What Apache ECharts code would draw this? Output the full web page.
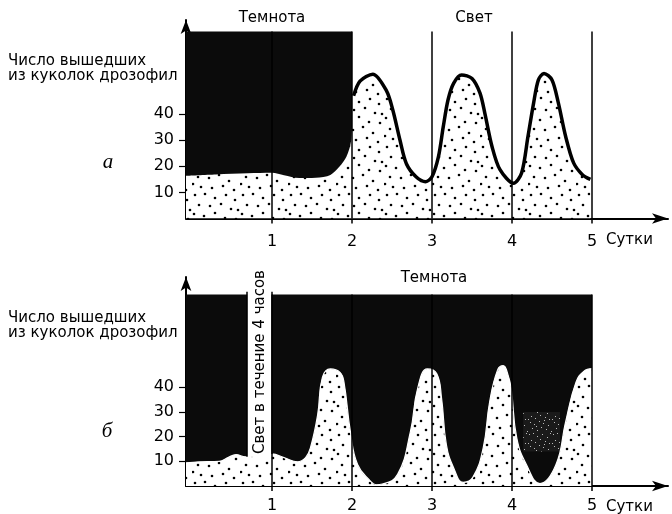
<!DOCTYPE html>
<html><head><meta charset="utf-8">
<script src="https://cdn.jsdelivr.net/npm/echarts@6/dist/echarts.min.js"></script>
<style>html,body{margin:0;padding:0;background:#fff}#c{width:672px;height:514px}</style>
</head><body><div id="c"></div>
<script>
// ---------- data ----------
const dayTicks = [1, 2, 3, 4, 5];
const yTicks = [10, 20, 30, 40];
const xStart = -0.075;            // curve starts at the y axis
// panel a: darkness from start to day 2, light afterwards
const darkSpanA = [xStart, 2];
const darkTopA = 71.6;
const curveA = [[-0.075,16.4],[0.3,16.9],[0.7,17.3],[1.0,17.5],[1.15,16.6],[1.34,15.5],[1.55,15.6],[1.73,16.7],[1.84,19.8],[1.93,23.7],[1.99,30],[2.02,47],[2.1,52.6],[2.26,55.3],[2.43,49],[2.51,41.6],[2.6,30],[2.68,21],[2.8,16],[2.92,14.1],[3.0,16],[3.08,23.6],[3.14,35],[3.2,45.4],[3.27,51.8],[3.37,55],[3.5,53.6],[3.6,48],[3.66,40.4],[3.75,27.6],[3.85,18.7],[4.02,13.5],[4.12,17.4],[4.2,31.5],[4.27,44.2],[4.33,53.1],[4.4,55.6],[4.5,53.1],[4.58,44.2],[4.67,31.5],[4.77,21.3],[4.88,16.8],[4.98,15]];
// panel b: darkness all the time, except a 4-hour light pulse
const darkSpanB = [xStart, 5];
const darkTopB = 77.5;
const lightStripB = [0.69, 1.0];
const lightStripTop = 78.6;
const scanPatchB = [[4.14, 14], [4.6, 30]];
const curveB = [[-0.075,9.4],[0.1,9.8],[0.34,10],[0.45,11.5],[0.55,12.7],[0.67,11.8],[0.88,11.8],[1.0,13],[1.15,11.5],[1.32,9.8],[1.42,11.5],[1.48,15.4],[1.57,28.7],[1.63,44],[1.73,47.4],[1.85,46],[1.9,42],[1.98,22],[2.07,8.7],[2.23,2],[2.3,0.5],[2.38,0.8],[2.57,4.7],[2.73,22],[2.82,39.4],[2.94,47.4],[3.06,45.4],[3.12,35.4],[3.18,16.7],[3.27,7.4],[3.39,1.5],[3.51,3.5],[3.64,15.4],[3.72,34],[3.82,47],[3.89,48.7],[3.95,45],[3.99,39.4],[4.06,19.4],[4.18,8.7],[4.35,1],[4.55,8.7],[4.67,26],[4.8,42],[4.9,46.5],[5.0,47.5]];

// ---------- styling helpers ----------
const FONT = '"DejaVu Sans", "Liberation Sans", sans-serif';
function dotPattern() {
  const c = document.createElement('canvas');
  c.width = 48; c.height = 48;
  const g = c.getContext('2d');
  g.fillStyle = '#fff'; g.fillRect(0, 0, 48, 48);
  g.fillStyle = '#000';
  const p = [[3,3],[13,2],[23,6],[34,3],[43,8],[7,13],[18,14],[29,12],[39,17],[2,22],[12,24],[23,21],[33,26],[44,27],[6,33],[17,34],[27,31],[37,37],[9,43],[20,44],[31,42],[42,46],[46,18],[1,40]];
  p.forEach(q => { g.beginPath(); g.arc(q[0], q[1], 1.3, 0, Math.PI * 2); g.fill(); });
  return c;
}
function speckle() {
  const c = document.createElement('canvas');
  c.width = 24; c.height = 24;
  const g = c.getContext('2d');
  g.fillStyle = '#1a1a1a'; g.fillRect(0, 0, 24, 24);
  g.fillStyle = '#bbb';
  const p = [[1,2],[5,1],[9,4],[14,2],[19,5],[22,1],[3,8],[7,10],[12,7],[17,9],[21,11],[2,14],[6,16],[11,13],[15,15],[20,17],[4,20],[9,22],[13,19],[18,21],[23,23],[0,11],[16,12],[8,18]];
  p.forEach(q => g.fillRect(q[0], q[1], 1, 1));
  return c;
}
const pattern = { image: dotPattern(), repeat: 'repeat' };
const specklePattern = { image: speckle(), repeat: 'repeat' };
function interp(curve, x) {
  for (let i = 1; i < curve.length; i++) {
    if (curve[i][0] >= x) {
      const a = curve[i-1], b = curve[i];
      return a[1] + (b[1]-a[1]) * (x-a[0]) / (b[0]-a[0]);
    }
  }
  return curve[curve.length-1][1];
}
function dayLines(top) {
  return dayTicks.map(d => [{ coord: [d, 0] }, { coord: [d, top] }]);
}

const X_PER_DAY = 80;
const GRID_W = 482;
function xAxis(idx, margin) {
  return {
    type: 'value', gridIndex: idx, min: xStart, max: xStart + GRID_W / X_PER_DAY,
    axisLine: { show: true, onZero: false, symbol: ['none', 'arrow'], symbolSize: [8, 16], lineStyle: { color: '#000', width: 2 } },
    axisTick: { show: true, customValues: dayTicks, length: 5, lineStyle: { color: '#000', width: 1.5 } },
    axisLabel: { customValues: dayTicks, margin: margin, color: '#000', fontSize: 16, fontFamily: FONT },
    splitLine: { show: false }
  };
}
function yAxis(idx, max) {
  return {
    type: 'value', gridIndex: idx, min: 0, max: max,
    axisLine: { show: true, onZero: false, symbol: ['none', 'arrow'], symbolSize: [8, 14], lineStyle: { color: '#000', width: 2 } },
    axisTick: { show: true, customValues: yTicks, length: 7, lineStyle: { color: '#000', width: 1.2 } },
    axisLabel: { customValues: yTicks, margin: 12, color: '#000', fontSize: 16, fontFamily: FONT },
    splitLine: { show: false }
  };
}
const dayLineStyle = { color: '#000', width: 1.5, type: 'solid' };

const option = {
  animation: false,
  backgroundColor: '#fff',
  grid: [
    { left: 186, top: 20, width: GRID_W, height: 198.5 },
    { left: 186, top: 277, width: GRID_W, height: 211.5 }
  ],
  xAxis: [xAxis(0, 15), xAxis(1, 12)],
  yAxis: [yAxis(0, 198.5 / 2.61), yAxis(1, 211.5 / 2.5)],
  series: [
    // ----- panel a -----
    { type: 'line', xAxisIndex: 0, yAxisIndex: 0, z: 1, symbol: 'none', silent: true,
      data: darkSpanA.map(x => [x, darkTopA]),
      lineStyle: { width: 0 }, areaStyle: { color: '#0b0b0b', opacity: 1 } },
    { type: 'line', xAxisIndex: 0, yAxisIndex: 0, z: 2, symbol: 'none', smooth: 0.3, silent: true,
      data: curveA, lineStyle: { width: 0 }, areaStyle: { color: pattern, opacity: 1 } },
    { type: 'line', xAxisIndex: 0, yAxisIndex: 0, z: 4, symbol: 'none', smooth: 0.3, silent: true,
      data: curveA.filter(p => p[0] >= 2), lineStyle: { color: '#000', width: 3.5 },
      markLine: { silent: true, symbol: ['none', 'none'], label: { show: false }, lineStyle: dayLineStyle, data: dayLines(darkTopA) } },
    // ----- panel b -----
    { type: 'line', xAxisIndex: 1, yAxisIndex: 1, z: 1, symbol: 'none', silent: true,
      data: darkSpanB.map(x => [x, darkTopB]),
      lineStyle: { width: 0 }, areaStyle: { color: '#0b0b0b', opacity: 1 },
      markArea: { silent: true, z: 2, itemStyle: { color: specklePattern }, data: [[{ coord: scanPatchB[0] }, { coord: scanPatchB[1] }]] } },
    { type: 'line', xAxisIndex: 1, yAxisIndex: 1, z: 2, symbol: 'none', silent: true,
      data: lightStripB.map(x => [x, lightStripTop]),
      lineStyle: { width: 0 }, areaStyle: { color: '#fff', opacity: 1 },
      markLine: { silent: true, symbol: ['none', 'none'], label: { show: false }, lineStyle: { color: '#000', width: 1.5, type: 'solid' },
        data: lightStripB.map(x => [{ coord: [x, interp(curveB, x)] }, { coord: [x, lightStripTop] }]) } },
    { type: 'line', xAxisIndex: 1, yAxisIndex: 1, z: 3, symbol: 'none', smooth: 0.45, silent: true,
      data: curveB, lineStyle: { color: '#fff', width: 1.2 }, areaStyle: { color: pattern, opacity: 1 },
      markLine: { silent: true, symbol: ['none', 'none'], label: { show: false }, lineStyle: dayLineStyle, data: dayLines(darkTopB) } }
  ],
  graphic: [
    { type: 'text', x: 8, y: 61, style: { text: 'Число вышедших', font: '15px ' + FONT, fill: '#000', verticalAlign: 'middle' } },
    { type: 'text', x: 8, y: 76, style: { text: 'из куколок дрозофил', font: '15px ' + FONT, fill: '#000', verticalAlign: 'middle' } },
    { type: 'text', x: 8, y: 318, style: { text: 'Число вышедших', font: '15px ' + FONT, fill: '#000', verticalAlign: 'middle' } },
    { type: 'text', x: 8, y: 333, style: { text: 'из куколок дрозофил', font: '15px ' + FONT, fill: '#000', verticalAlign: 'middle' } },
    { type: 'text', x: 108, y: 162, style: { text: 'а', font: 'italic 21px "Liberation Serif", serif', fill: '#000', align: 'center', verticalAlign: 'middle' } },
    { type: 'text', x: 107, y: 431, style: { text: 'б', font: 'italic 21px "Liberation Serif", serif', fill: '#000', align: 'center', verticalAlign: 'middle' } },
    { type: 'text', x: 272, y: 18, style: { text: 'Темнота', font: '15px ' + FONT, fill: '#000', align: 'center', verticalAlign: 'middle' } },
    { type: 'text', x: 474, y: 18, style: { text: 'Свет', font: '15px ' + FONT, fill: '#000', align: 'center', verticalAlign: 'middle' } },
    { type: 'text', x: 434, y: 278, style: { text: 'Темнота', font: '15px ' + FONT, fill: '#000', align: 'center', verticalAlign: 'middle' } },
    { type: 'text', x: 606, y: 240, style: { text: 'Сутки', font: '15px ' + FONT, fill: '#000', verticalAlign: 'middle' } },
    { type: 'text', x: 606, y: 507, style: { text: 'Сутки', font: '15px ' + FONT, fill: '#000', verticalAlign: 'middle' } },
    { type: 'text', x: 260, y: 362, rotation: Math.PI / 2, z: 10, style: { text: 'Свет в течение 4 часов', font: '15px ' + FONT, fill: '#000', align: 'center', verticalAlign: 'middle' } }
  ]
};
echarts.init(document.getElementById('c'), null, { renderer: 'canvas' }).setOption(option);
</script>
</body></html>
